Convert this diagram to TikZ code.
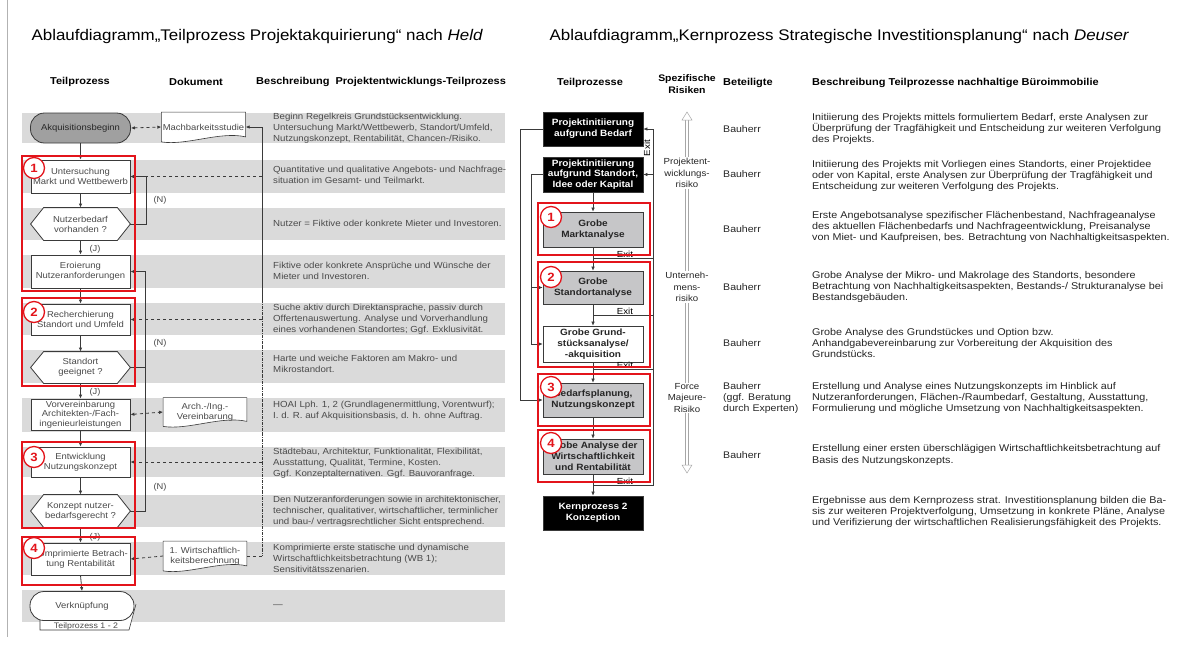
\documentclass[tikz,border=0pt]{standalone}
\usepackage{fontspec}
\setmainfont{Liberation Sans}[FakeStretch=1.1]
\usetikzlibrary{arrows.meta}

\definecolor{bandgray}{HTML}{DADADA}
\definecolor{txtgray}{HTML}{4A4A4A}
\definecolor{linegray}{HTML}{3A3A3A}
\definecolor{boxgray}{HTML}{C6C6C8}
\definecolor{pillgray}{HTML}{A0A0A0}
\definecolor{framered}{HTML}{E3141B}

\pgfdeclarelayer{bands}
\pgfdeclarelayer{background}
\pgfsetlayers{bands,background,main}

\tikzset{
  flowbox/.style={draw=linegray, fill=white, line width=0.8pt, minimum width=99pt,
    minimum height=32pt, align=center, inner sep=1pt, text=txtgray,
    font=\fontsize{8.6}{10}\selectfont},
  pillbox/.style={flowbox, rounded corners=14pt, fill=pillgray, text=black!85},
  hexbox/.style={flowbox, draw=none, fill=none},
  docbox/.style={flowbox, draw=none, fill=none, minimum width=83pt, minimum height=29pt},
  desc/.style={anchor=west, align=left, inner sep=0pt, text=txtgray,
    font=\fontsize{8.8}{11}\selectfont},
  colhead/.style={font=\fontsize{10}{12}\selectfont\bfseries, align=center, inner sep=0pt},
  flowline/.style={draw=linegray, line width=0.8pt},
  flowarrow/.style={flowline, -{Latex[length=4pt,width=3.5pt]}},
  dasharrow/.style={flowline, dashed, -{Latex[length=4pt,width=3.5pt]}},
  redframe/.style={draw=framered, line width=1.3pt},
  numcirc/.style={circle, draw=framered, line width=1.3pt, fill=white, text=framered,
    font=\fontsize{12}{12}\selectfont\bfseries, minimum size=21pt, inner sep=0pt},
  procbox/.style={draw=linegray, line width=0.7pt, minimum width=100pt, minimum height=34pt,
    align=center, inner sep=1pt, font=\fontsize{9.1}{10.8}\selectfont\bfseries},
  blackbox/.style={procbox, fill=black, text=white},
  graybox/.style={procbox, fill=boxgray, text=black!85},
  whitebox/.style={procbox, fill=white, text=black!85},
  roletext/.style={anchor=west, align=left, inner sep=0pt, text=black!85,
    font=\fontsize{9.6}{11.3}\selectfont},
  rdesc/.style={roletext, font=\fontsize{9.8}{11.3}\selectfont},
  risklabel/.style={align=center, fill=white, inner sep=1pt, text=black!85,
    font=\fontsize{8.8}{11.3}\selectfont},
  exitlabel/.style={anchor=south, inner sep=0.5pt, font=\fontsize{8.8}{9}\selectfont},
}

\begin{document}
\begin{tikzpicture}[x=1pt,y=-1pt]
  \useasboundingbox (0,0) rectangle (1180,646);
  \draw[gray!60] (7,0) -- (7,637);

  % Titles
  \node[anchor=west, font=\fontsize{15.4}{17}\selectfont] (titleL) at (28,37)
    {Ablaufdiagramm„Teilprozess Projektakquirierung“ nach \textit{Held}};
  \node[anchor=west, font=\fontsize{15.4}{17}\selectfont] (titleR) at (546,37)
    {Ablaufdiagramm„Kernprozess Strategische Investitionsplanung“ nach \textit{Deuser}};

  % ---------------- Left: Held ----------------
  \node[colhead] (hTeil) at (80,82) {Teilprozess};
  \node[colhead] (hDok) at (196,82) {Dokument};
  \node[colhead, anchor=west] (hBes) at (256,82) {Beschreibung\hspace{0.6em}Projektentwicklungs-Teilprozess};

  \begin{pgfonlayer}{bands}
    \foreach \t/\b in {113/143,160/193,208/240,255/288,303/335,350/383,
                       398/432,447/477,495/527,542/575,590/622}{
      \fill[bandgray] (22,\t) rectangle (505,\b);
    }
  \end{pgfonlayer}

  \node[pillbox, minimum width=100pt, minimum height=30pt] (akq) at (80.5,128) {Akquisitionsbeginn};
  \node[flowbox, minimum height=33pt] (unters) at (80.5,176.5) {Untersuchung\\Markt und Wettbewerb};
  \node[hexbox] (nbed) at (80.5,224) {Nutzerbedarf\\vorhanden ?};
  \node[flowbox, minimum height=33pt] (eroi) at (80.5,271.5) {Eroierung\\Nutzeranforderungen};
  \node[flowbox, minimum height=31pt] (rech) at (80.5,319.5) {Recherchierung\\Standort und Umfeld};
  \node[hexbox, minimum height=31pt] (stand) at (80.5,367.5) {Standort\\geeignet ?};
  \node[flowbox, minimum height=31pt, font=\fontsize{8.6}{9.4}\selectfont] (vorv) at (80.5,414.5)
    {Vorvereinbarung\\Architekten-/Fach-\\ingenieurleistungen};
  \node[flowbox, minimum height=30pt] (entw) at (80.5,462) {Entwicklung\\Nutzungskonzept};
  \node[hexbox] (konz) at (80.5,511) {Konzept nutzer-\\bedarfsgerecht ?};
  \node[flowbox] (kompr) at (80.5,559) {Komprimierte Betrach-\\tung Rentabilität};
  \node[docbox] (mach) at (203.5,127) {Machbarkeitsstudie};
  \node[docbox, minimum height=28pt] (arch) at (205,412) {Arch.-/Ing.-\\Vereinbarung};
  \node[docbox] (wbdoc) at (205,556) {1. Wirtschaftlich-\\keitsberechnung};

  % connector tab and end node
  \begin{pgfonlayer}{background}
    \draw[flowline, line width=0.6pt, fill=white] (40,606) -- (40,630) -- (129,630) -- (136,604);
    \foreach \d in {mach,arch,wbdoc}{
      \draw[flowline, line width=0.6pt, fill=white] (\d.south west) -- (\d.north west)
        -- (\d.north east) -- ([yshift=5pt]\d.south east)
        .. controls ([xshift=-25pt,yshift=11pt]\d.south east) and ([xshift=25pt,yshift=-4pt]\d.south west) .. (\d.south west);
    }
    \foreach \h in {nbed,stand,konz}{
      \draw[flowline, fill=white] ([xshift=13pt]\h.north west) -- ([xshift=-13pt]\h.north east)
        -- (\h.east) -- ([xshift=-13pt]\h.south east) -- ([xshift=13pt]\h.south west)
        -- (\h.west) -- cycle;
    }
  \end{pgfonlayer}
  \node[inner sep=0pt, text=txtgray, font=\fontsize{8}{9}\selectfont] (tabtxt) at (86,626) {Teilprozess 1 - 2};
  \node[pillbox, fill=white, text=txtgray, minimum width=104pt, minimum height=29pt] (verkn) at (82,606) {Verknüpfung};

  % flow
  \foreach \a/\b in {akq/unters,unters/nbed,nbed/eroi,eroi/rech,rech/stand,
                     stand/vorv,vorv/entw,entw/konz,konz/kompr,kompr/verkn}{
    \draw[flowarrow] (\a.south) -- (\b.north);
  }
  \coordinate (vtop) at (262,127);
  \coordinate (vmid) at (262,300);
  \coordinate (vbot) at (262,556);
  \coordinate (loopB) at (145,367.5);
  \draw[flowarrow] (nbed.east) -- ++(16,0) |- (unters.east);
  \draw[flowarrow] (stand.east) -- (loopB) |- (eroi.east);
  \draw[flowline] (konz.east) -| (loopB);
  \draw[flowarrow] (vtop) -- (mach.east);
  \draw[flowline] (vtop) -- (vmid);
  \draw[flowline, densely dashdotted] (vmid) -- (vbot);
  \draw[dasharrow] (vtop |- unters.east) -- (unters.east);
  \draw[dasharrow] (vtop |- rech.east) -- (rech.east);
  \draw[dasharrow] (vtop |- entw.east) -- (entw.east);
  \draw[flowline, dashed] (vbot) -- (wbdoc.east);
  \draw[dasharrow] (wbdoc.west) -- (kompr.east);
  \draw[dasharrow, {Latex[length=4pt,width=3.5pt]}-{Latex[length=4pt,width=3.5pt]}] (akq.east) -- (mach.west);
  \draw[dasharrow, {Latex[length=4pt,width=3.5pt]}-{Latex[length=4pt,width=3.5pt]}] (vorv.east) -- (arch.west);

  \node[text=txtgray, font=\fontsize{8.5}{9}\selectfont] (n1) at (160,200) {(N)};
  \node[text=txtgray, font=\fontsize{8.5}{9}\selectfont] (n2) at (160,343) {(N)};
  \node[text=txtgray, font=\fontsize{8.5}{9}\selectfont] (n3) at (160,487) {(N)};
  \node[text=txtgray, font=\fontsize{8.5}{9}\selectfont] (j1) at (95,249) {(J)};
  \node[text=txtgray, font=\fontsize{8.5}{9}\selectfont] (j2) at (95,392) {(J)};
  \node[text=txtgray, font=\fontsize{8.5}{9}\selectfont] (j3) at (95,537) {(J)};

  % descriptions
  \node[desc] (dA) at (273,128) {Beginn Regelkreis Grundstücksentwicklung.\\Untersuchung Markt/Wettbewerb, Standort/Umfeld,\\Nutzungskonzept, Rentabilität, Chancen-/Risiko.};
  \node[desc] (dB) at (273,175) {Quantitative und qualitative Angebots- und Nachfrage-\\situation im Gesamt- und Teilmarkt.};
  \node[desc] (dC) at (273,223) {Nutzer = Fiktive oder konkrete Mieter und Investoren.};
  \node[desc] (dD) at (273,271) {Fiktive oder konkrete Ansprüche und Wünsche der\\Mieter und Investoren.};
  \node[desc] (dE) at (273,319) {Suche aktiv durch Direktansprache, passiv durch\\Offertenauswertung. Analyse und Vorverhandlung\\eines vorhandenen Standortes; Ggf. Exklusivität.};
  \node[desc] (dF) at (273,364) {Harte und weiche Faktoren am Makro- und\\Mikrostandort.};
  \node[desc] (dG) at (273,411) {HOAI Lph. 1, 2 (Grundlagenermittlung, Vorentwurf);\\I. d. R. auf Akquisitionsbasis, d. h. ohne Auftrag.};
  \node[desc] (dH) at (273,463) {Städtebau, Architektur, Funktionalität, Flexibilität,\\Ausstattung, Qualität, Termine, Kosten.\\Ggf. Konzeptalternativen. Ggf. Bauvoranfrage.};
  \node[desc] (dI) at (273,511) {Den Nutzeranforderungen sowie in architektonischer,\\technischer, qualitativer, wirtschaftlicher, terminlicher\\und bau-/ vertragsrechtlicher Sicht entsprechend.};
  \node[desc] (dJ) at (273,558) {Komprimierte erste statische und dynamische\\Wirtschaftlichkeitsbetrachtung (WB 1);\\Sensitivitätsszenarien.};
  \node[desc] (dK) at (273,606) {—};

  % red groups
  \draw[redframe] (22,156) rectangle (135,291);
  \draw[redframe] (22,298) rectangle (135,386);
  \draw[redframe] (22,442) rectangle (135,528);
  \draw[redframe] (22,537) rectangle (135,585);
  \node[numcirc] (c1) at (34,168) {1};
  \node[numcirc] (c2) at (34,312) {2};
  \node[numcirc] (c3) at (34,457) {3};
  \node[numcirc] (c4) at (34,548) {4};

  % ---------------- Right: Deuser ----------------
  \node[colhead] (rTeil) at (590,83) {Teilprozesse};
  \node[colhead, font=\fontsize{9.5}{11.5}\selectfont\bfseries] (rRis) at (687,84) {Spezifische\\Risiken};
  \node[colhead, anchor=west] (rBet) at (723,83) {Beteiligte};
  \node[colhead, anchor=west] (rBes) at (812,83) {Beschreibung Teilprozesse nachhaltige Büroimmobilie};

  \node[blackbox] (ini1) at (593,129) {Projektinitiierung\\aufgrund Bedarf};
  \node[blackbox, minimum height=35pt] (ini2) at (593,174.5) {Projektinitiierung\\aufgrund Standort,\\Idee oder Kapital};
  \node[graybox, minimum height=35pt] (markt) at (593,229.5) {Grobe\\Marktanalyse};
  \node[graybox, minimum height=33pt] (stort) at (593,287.5) {Grobe\\Standortanalyse};
  \node[whitebox, minimum height=36pt] (grund) at (593,344) {Grobe Grund-\\stücksanalyse/\\-akquisition};
  \node[graybox] (bedarf) at (593,400) {Bedarfsplanung,\\Nutzungskonzept};
  \node[graybox, minimum height=35pt] (wirtsch) at (593,456.5) {Grobe Analyse der\\Wirtschaftlichkeit\\und Rentabilität};
  \node[blackbox] (kern) at (593,513) {Kernprozess 2\\Konzeption};

  \foreach \a/\b in {ini2/markt,markt/stort,stort/grund,grund/bedarf,bedarf/wirtsch,wirtsch/kern}{
    \draw[flowarrow, line width=0.6pt] (\a.south) -- (\b.north);
  }
  \draw[flowarrow, line width=0.6pt] (ini1.west) -- ++(-22,0) |- (bedarf.west);
  \draw[flowarrow, line width=0.6pt] (ini2.west) -- ++(-11,0) |- (grund.west);
  \draw[flowarrow, line width=0.6pt] (ini2.west) ++(-11,0) |- (stort.west);

  % exits
  \coordinate (exA) at (653,258);
  \coordinate (exB) at (653,315);
  \coordinate (exC) at (653,369);
  \coordinate (exD) at (653,485);
  \foreach \e in {exA,exB,exC}{
    \draw[flowline, line width=0.6pt] (markt.south |- \e) -- (\e);
    \node[exitlabel] at ([xshift=-28pt]\e) {Exit};
  }
  \draw[flowarrow, line width=0.6pt] (wirtsch.south |- exD) -- (exD) |- (ini1.east);
  \node[exitlabel] (exlD) at ([xshift=-28pt]exD) {Exit};
  \draw[flowarrow, line width=0.6pt] (exD |- ini2.east) -- (ini2.east);
  \node[rotate=90, inner sep=0.5pt, font=\fontsize{8.8}{9}\selectfont] (exrot) at (647,148) {Exit};

  % risk arrow
  \coordinate (rtop) at (687,112);
  \coordinate (rbot) at (687,473);
  \draw[gray!70, double=white, double distance=2.2pt, line width=0.5pt]
    ([yshift=-8pt]rtop) -- ([yshift=8pt]rbot);
  \draw[gray!70, line width=0.5pt, fill=white] ([xshift=-5pt,yshift=-8pt]rtop) -- (rtop) -- ([xshift=5pt,yshift=-8pt]rtop) -- cycle;
  \draw[gray!70, line width=0.5pt, fill=white] ([xshift=-5pt,yshift=8pt]rbot) -- (rbot) -- ([xshift=5pt,yshift=8pt]rbot) -- cycle;
  \node[risklabel] (ris1) at (687,173) {Projektent-\\wicklungs-\\risiko};
  \node[risklabel] (ris2) at (687,287) {Unterneh-\\mens-\\risiko};
  \node[risklabel] (ris3) at (687,398) {Force\\Majeure-\\Risiko};

  % participants
  \node[roletext] (b1) at (723,129) {Bauherr};
  \node[roletext] (b2) at (723,174) {Bauherr};
  \node[roletext] (b3) at (723,229) {Bauherr};
  \node[roletext] (b4) at (723,287) {Bauherr};
  \node[roletext] (b5) at (723,343) {Bauherr};
  \node[roletext] (b6) at (723,398) {Bauherr\\(ggf. Beratung\\durch Experten)};
  \node[roletext] (b7) at (723,455) {Bauherr};

  % descriptions
  \node[rdesc] (r1) at (812,129) {Initiierung des Projekts mittels formuliertem Bedarf, erste Analysen zur\\Überprüfung der Tragfähigkeit und Entscheidung zur weiteren Verfolgung\\des Projekts.};
  \node[rdesc] (r2) at (812,176) {Initiierung des Projekts mit Vorliegen eines Standorts, einer Projektidee\\oder von Kapital, erste Analysen zur Überprüfung der Tragfähigkeit und\\Entscheidung zur weiteren Verfolgung des Projekts.};
  \node[rdesc] (r3) at (812,227) {Erste Angebotsanalyse spezifischer Flächenbestand, Nachfrageanalyse\\des aktuellen Flächenbedarfs und Nachfrageentwicklung, Preisanalyse\\von Miet- und Kaufpreisen, bes. Betrachtung von Nachhaltigkeitsaspekten.};
  \node[rdesc] (r4) at (812,287) {Grobe Analyse der Mikro- und Makrolage des Standorts, besondere\\Betrachtung von Nachhaltigkeitsaspekten, Bestands-/ Strukturanalyse bei\\Bestandsgebäuden.};
  \node[rdesc] (r5) at (812,343) {Grobe Analyse des Grundstückes und Option bzw.\\Anhandgabevereinbarung zur Vorbereitung der Akquisition des\\Grundstücks.};
  \node[rdesc] (r6) at (812,398) {Erstellung und Analyse eines Nutzungskonzepts im Hinblick auf\\Nutzeranforderungen, Flächen-/Raumbedarf, Gestaltung, Ausstattung,\\Formulierung und mögliche Umsetzung von Nachhaltigkeitsaspekten.};
  \node[rdesc] (r7) at (812,455) {Erstellung einer ersten überschlägigen Wirtschaftlichkeitsbetrachtung auf\\Basis des Nutzungskonzepts.};
  \node[rdesc] (r8) at (812,512) {Ergebnisse aus dem Kernprozess strat. Investitionsplanung bilden die Ba-\\sis zur weiteren Projektverfolgung, Umsetzung in konkrete Pläne, Analyse\\und Verifizierung der wirtschaftlichen Realisierungsfähigkeit des Projekts.};

  % red groups
  \draw[redframe] (538,203) rectangle (650,255);
  \draw[redframe] (538,262) rectangle (650,367);
  \draw[redframe] (538,374) rectangle (650,426);
  \draw[redframe] (538,430) rectangle (650,482);
  \node[numcirc] (k1) at (551,217) {1};
  \node[numcirc] (k2) at (551,277) {2};
  \node[numcirc] (k3) at (551,387) {3};
  \node[numcirc] (k4) at (551,443) {4};
\end{tikzpicture}
\end{document}
